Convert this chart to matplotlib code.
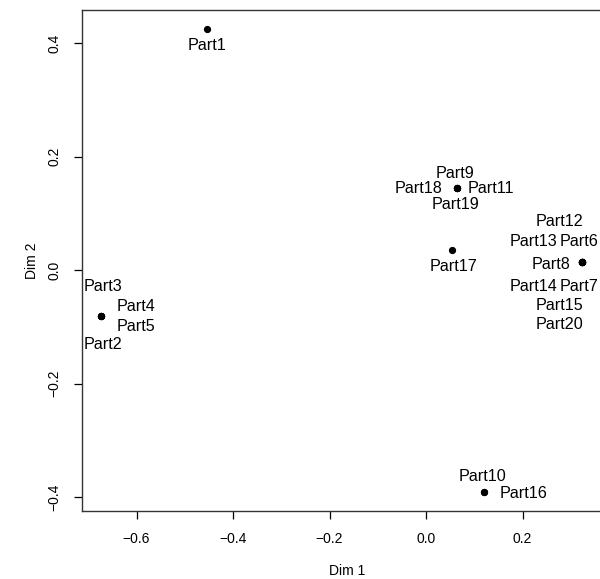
import matplotlib
matplotlib.use('Agg')
import matplotlib.pyplot as plt

plt.rcParams['font.family'] = ['Liberation Sans', 'DejaVu Sans']

# MDS coordinates of each part
parts = ['Part1', 'Part2', 'Part3', 'Part4', 'Part5', 'Part6', 'Part7', 'Part8', 'Part9', 'Part10',
         'Part11', 'Part12', 'Part13', 'Part14', 'Part15', 'Part16', 'Part17', 'Part18', 'Part19', 'Part20']
dim1 = [-0.4545, -0.6736, -0.6736, -0.6736, -0.6736, 0.324, 0.324, 0.324, 0.065, 0.121,
        0.065, 0.324, 0.324, 0.324, 0.324, 0.121, 0.0545, 0.065, 0.065, 0.324]
dim2 = [0.426, -0.0805, -0.0805, -0.0805, -0.0805, 0.0146, 0.0146, 0.0146, 0.145, -0.392,
        0.145, 0.0146, 0.0146, 0.0146, 0.0146, -0.392, 0.035, 0.145, 0.145, 0.0146]

# label placement around the points (pixel offsets, down = positive; alignment)
label_pos = {
    'Part1': (0, 15, 'center'),
    'Part3': (1.5, -31, 'center'), 'Part4': (16, -11, 'left'),
    'Part5': (16, 9.5, 'left'), 'Part2': (1.5, 27, 'center'),
    'Part9': (-2, -16, 'center'), 'Part18': (-14.5, -1, 'right'),
    'Part11': (10.5, -1, 'left'), 'Part19': (-2, 15.5, 'center'),
    'Part17': (1.5, 14.5, 'center'),
    'Part12': (-22.6, -41.7, 'center'), 'Part13': (-25, -21.7, 'right'),
    'Part6': (-22.3, -21.7, 'left'), 'Part8': (-11.6, 1, 'right'),
    'Part14': (-25, 23.3, 'right'), 'Part7': (-22.3, 23.3, 'left'),
    'Part15': (-22.6, 42.3, 'center'), 'Part20': (-22.6, 61.6, 'center'),
    'Part10': (-1.5, -17.3, 'center'), 'Part16': (15.5, 0, 'left'),
}

fig = plt.figure(figsize=(6, 5.79), dpi=100)
ax = fig.add_axes([82 / 600, 68 / 579, 530 / 600, 501 / 579])

ax.plot(dim1, dim2, 'o', color='black', ms=4.2, clip_on=False)
for name, x, y in zip(parts, dim1, dim2):
    dx, dy, ha = label_pos[name]
    ax.annotate(name, (x, y), xytext=(dx, -dy), textcoords='offset pixels',
                ha=ha, va='center_baseline', fontsize=11.6, annotation_clip=False)

ax.set_xlim(-0.713, 0.3855)
ax.set_ylim(-0.4247, 0.4587)
ax.set_xticks([-0.6, -0.4, -0.2, 0.0, 0.2])
ax.set_xticklabels(['\u22120.6', '\u22120.4', '\u22120.2', '0.0', '0.2'])
ax.set_yticks([-0.4, -0.2, 0.0, 0.2, 0.4])
ax.set_yticklabels(['\u22120.4', '\u22120.2', '0.0', '0.2', '0.4'], rotation=90, va='center')
ax.tick_params(length=6, width=0.9, labelsize=10, pad=9)
for sp in ax.spines.values():
    sp.set_linewidth(1.0)
    sp.set_color('#333333')
ax.set_xlabel('Dim 1', fontsize=10, labelpad=13)
ax.set_ylabel('Dim 2', fontsize=10, labelpad=6)

fig.savefig('out.png', dpi=100)
